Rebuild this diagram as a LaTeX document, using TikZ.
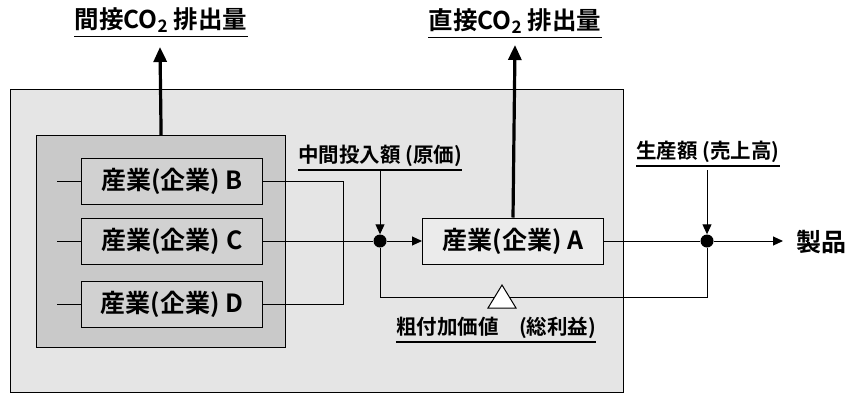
\documentclass[tikz,border=0pt]{standalone}
\usepackage{fontspec}
\setmainfont{Noto Sans CJK JP}[BoldFont={Noto Sans CJK JP Bold}]
\usetikzlibrary{arrows.meta}
\tikzset{
  x=1pt, y=-1pt,
  box/.style={draw, line width=1pt, minimum width=181pt, minimum height=46pt, inner sep=0pt, font=\fontsize{25}{28}\selectfont\bfseries},
  lbl/.style={inner sep=0pt, font=\fontsize{20.5}{22}\selectfont\bfseries},
  head/.style={inner sep=0pt, font=\fontsize{24.5}{26}\selectfont\bfseries},
  dotnode/.style={circle, fill=black, inner sep=0pt, minimum size=13pt},
  thin/.style={line width=1pt},
  arr/.style={line width=1pt, -{Triangle[length=10pt,width=9pt]}},
  big/.style={line width=3.2pt, -{Triangle[length=15pt,width=13pt]}},
  uline/.style={line width=1.4pt},
}
\begin{document}
\begin{tikzpicture}
\useasboundingbox (0,0) rectangle (850,394);
% outer and group boxes
\node[draw, line width=1.2pt, fill=gray!20, minimum width=613pt, minimum height=303pt, anchor=north west, inner sep=0pt] (outer) at (10,89) {};
\node[draw, line width=1.2pt, fill=gray!42, minimum width=249pt, minimum height=212pt, anchor=north west, inner sep=0pt] (grp) at (36,135) {};
% industry boxes
\node[box, fill=gray!36] (B) at (172,181) {産業(企業) B};
\node[box, fill=gray!36] (C) at (172,241) {産業(企業) C};
\node[box, fill=gray!36] (D) at (172,304) {産業(企業) D};
\node[box, fill=gray!16] (A) at (513,241) {産業(企業) A};
% stubs
\coordinate (sB) at (57,181);
\coordinate (sC) at (57,241);
\coordinate (sD) at (57,304);
\draw[thin] (sB) -- (B.west);
\draw[thin] (sC) -- (C.west);
\draw[thin] (sD) -- (D.west);
% B and D joining line
\coordinate (jB) at (343,181);
\coordinate (jD) at (343,304);
\draw[thin] (B.east) -- (jB) -- (jD) -- (D.east);
% dots
\node[dotnode] (d1) at (380,241) {};
\node[dotnode] (d2) at (707,241) {};
\draw[thin] (C.east) -- (d1);
\draw[arr] (d1) -- (A.west);
\draw[thin] (A.east) -- (d2);
% product
\node[inner sep=0pt, font=\fontsize{25}{28}\selectfont\bfseries, anchor=west] (P) at (796,242) {製品};
\coordinate (pe) at (783,241);
\draw[arr] (d2) -- (pe);
% intermediate input label
\node[lbl] (L1) at (380,156) {中間投入額 (原価)};
\draw[uline] ([yshift=-3pt]L1.south west) -- ([yshift=-3pt]L1.south east);
\coordinate (t1) at (380,171);
\draw[arr] (t1) -- (d1);
% production label
\node[lbl] (L2) at (708,152) {生産額 (売上高)};
\draw[uline] ([yshift=-3pt]L2.south west) -- ([yshift=-3pt]L2.south east);
\coordinate (t2) at (707,170);
\draw[arr] (t2) -- (d2);
% loop
\coordinate (lb) at (707,297);
\coordinate (la) at (380,297);
\draw[thin] (d2) -- (lb) -- (la) -- (d1);
\draw[thin, fill=white] (488,308) -- (502,285) -- (516,308) -- cycle;
% value added label
\node[lbl] (L3) at (496,328) {粗付加価値\quad(総利益)};
\draw[uline] ([yshift=-3pt]L3.south west) -- ([yshift=-3pt]L3.south east);
% heads
\node[head] (H1) at (161,20) {間接CO\textsubscript{2} 排出量};
\draw[uline] ([yshift=-4pt]H1.south west) -- ([yshift=-4pt]H1.south east);
\node[head] (H2) at (515,21) {直接CO\textsubscript{2} 排出量};
\draw[uline] ([yshift=-4pt]H2.south west) -- ([yshift=-4pt]H2.south east);
\coordinate (h1) at (160,47);
\coordinate (h2) at (515,45);
\draw[big] (grp.north) -- (h1);
\draw[big] (A.north) -- (h2);
\end{tikzpicture}
\end{document}
